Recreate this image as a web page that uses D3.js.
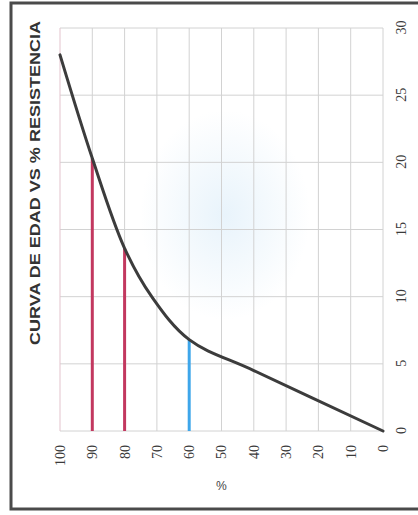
<!DOCTYPE html>
<html>
<head>
<meta charset="utf-8">
<script src="https://cdn.jsdelivr.net/npm/d3@7"></script>
<style>
  body { margin: 0; background: #fff; }
  svg { display: block; }
</style>
</head>
<body>
<div class="container"></div>
<script>
// curve: age (days) vs % of strength
let days = [0, 4.5, 6.8, 10, 13.6, 20.3, 28];
let pct = [0, 40, 60, 71.6, 80, 90, 100];

// reference lines drawn up to the curve
let markPct = [90, 80, 60];
let markDay = [20.3, 13.6, 6.8];
let markColor = ['#c2385f', '#c2385f', '#3ea6ea'];

let dayTicks = [0, 5, 10, 15, 20, 25, 30];
let pctTicks = [0, 10, 20, 30, 40, 50, 60, 70, 80, 90, 100];

let title = 'CURVA DE EDAD VS % RESISTENCIA';

let svgW = 418;
let svgH = 515;

// chart is drawn upright, then the whole thing is turned 90deg
let width = 403;  // days axis
let height = 323; // % axis

let svg = d3
  .select('.container')
  .append('svg')
  .attr('width', svgW)
  .attr('height', svgH);

svg.append('rect').attr('width', svgW).attr('height', svgH).attr('fill', '#fff');

// faint blue stain from the scan
let defs = svg.append('defs');
let grad = defs.append('radialGradient').attr('id', 'stain');
grad.append('stop').attr('offset', '0%').attr('stop-color', '#d6eaf8').attr('stop-opacity', 0.55);
grad.append('stop').attr('offset', '100%').attr('stop-color', '#d6eaf8').attr('stop-opacity', 0);
svg
  .append('ellipse')
  .attr('cx', 225)
  .attr('cy', 215)
  .attr('rx', 85)
  .attr('ry', 105)
  .attr('fill', 'url(#stain)');

// frame
svg
  .append('rect')
  .attr('x', 11)
  .attr('y', 3)
  .attr('width', 440)
  .attr('height', 506)
  .attr('fill', 'none')
  .attr('stroke', '#4a4a4a')
  .attr('stroke-width', 3);

let g = svg.append('g').attr('transform', 'translate(60,431) rotate(-90)');

let x = d3.scaleLinear().domain([0, 30]).range([0, width]);
let y = d3.scaleLinear().domain([0, 100]).range([height, 0]);

// grid
g.append('g')
  .selectAll('line')
  .data(dayTicks)
  .enter()
  .append('line')
  .attr('x1', (d) => x(d))
  .attr('x2', (d) => x(d))
  .attr('y1', 0)
  .attr('y2', height)
  .attr('stroke', '#d2d2d2')
  .attr('stroke-width', 1);

g.append('g')
  .selectAll('line')
  .data(pctTicks)
  .enter()
  .append('line')
  .attr('x1', 0)
  .attr('x2', width)
  .attr('y1', (d) => y(d))
  .attr('y2', (d) => y(d))
  .attr('stroke', (d) => (d === 100 ? '#e3c3cd' : '#d2d2d2'))
  .attr('stroke-width', 1);

// axes
let xAxis = d3.axisBottom(x).tickValues(dayTicks).tickSize(0).tickPadding(13);
let gx = g.append('g').attr('transform', 'translate(0,' + height + ')').call(xAxis);

let yAxis = d3.axisLeft(y).tickValues(pctTicks).tickSize(0).tickPadding(14);
let gy = g.append('g').call(yAxis);

[gx, gy].forEach((ax) => {
  ax.select('.domain').remove();
  ax.selectAll('text')
    .attr('font-family', 'Liberation Serif, serif')
    .attr('font-size', 14)
    .attr('fill', '#3a3a3a');
});

// axis title
g.append('text')
  .attr('transform', 'translate(-50,' + height / 2 + ') rotate(-90)')
  .attr('text-anchor', 'middle')
  .attr('font-family', 'Liberation Sans, Arial, sans-serif')
  .attr('font-size', 12)
  .attr('fill', '#444')
  .text('%');

// chart title
g.append('text')
  .attr('x', 248)
  .attr('y', -20)
  .attr('text-anchor', 'middle')
  .attr('font-family', 'Liberation Sans, Arial, sans-serif')
  .attr('font-weight', 'bold')
  .attr('font-size', 14)
  .attr('textLength', 324)
  .attr('lengthAdjust', 'spacingAndGlyphs')
  .attr('fill', '#333')
  .text(title);

// reference lines
g.append('g')
  .selectAll('line')
  .data(markPct)
  .enter()
  .append('line')
  .attr('x1', x(0))
  .attr('x2', (d, i) => x(markDay[i]))
  .attr('y1', (d) => y(d))
  .attr('y2', (d) => y(d))
  .attr('stroke', (d, i) => markColor[i])
  .attr('stroke-width', 3);

// curve
let line = d3
  .line()
  .x((d, i) => x(days[i]))
  .y((d) => y(d))
  .curve(d3.curveCatmullRom.alpha(0.5));

g.append('path')
  .datum(pct)
  .attr('d', line)
  .attr('fill', 'none')
  .attr('stroke', '#3c3c3c')
  .attr('stroke-width', 3)
  .attr('stroke-linecap', 'round');
</script>
</body>
</html>
